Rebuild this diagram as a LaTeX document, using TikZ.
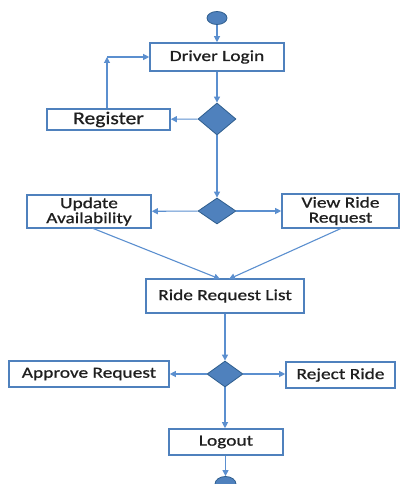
\documentclass[tikz,border=0pt]{standalone}
\usepackage{fontspec}
\setmainfont[FakeStretch=1.25,FakeBold=0.8]{Carlito}
\newfontfamily\regfont[FakeStretch=1.2,FakeBold=0.8]{Carlito}
\usetikzlibrary{shapes.geometric,arrows.meta}
\definecolor{boxline}{HTML}{4F81BD}
\definecolor{conn}{HTML}{5B8FCF}
\definecolor{dfill}{HTML}{4F81BD}
\definecolor{dline}{HTML}{2F5E8E}
\definecolor{txt}{HTML}{1F1F1F}
\tikzset{
  actbox/.style={draw=boxline, line width=1.6pt, fill=white, inner sep=0pt,
    text=txt, font=\fontsize{15.5}{16.5}\selectfont, align=center},
  decision/.style={diamond, draw=dline, line width=0.8pt, fill=dfill, inner sep=0pt},
  terminal/.style={ellipse, draw=dline, line width=0.8pt, fill=dfill, inner sep=0pt},
  flow/.style={draw=conn, line width=1.1pt, -{Triangle[length=6pt,width=6pt]}},
}
\begin{document}
\begin{tikzpicture}[x=1pt,y=-1pt]
\useasboundingbox (0,0) rectangle (401,484);
\node[terminal, minimum width=20pt, minimum height=13pt] (start) at (217,18) {};
\node[actbox, minimum width=134pt, minimum height=28pt] (login) at (217,57) {Driver Login};
\node[decision, minimum width=38pt, minimum height=32pt] (d1) at (217,119) {};
\node[actbox, minimum width=123pt, minimum height=21pt, font=\regfont\fontsize{18}{19}\selectfont] (reg) at (108.5,119.5) {Register};
\node[decision, minimum width=38pt, minimum height=26pt] (d2) at (217,211) {};
\node[actbox, minimum width=124pt, minimum height=33pt] (upd) at (89,211.5) {Update\\[-1.5pt]Availability};
\node[actbox, minimum width=117pt, minimum height=34pt] (view) at (340.5,211) {View Ride\\[-1.5pt]Request};
\node[actbox, minimum width=158pt, minimum height=34pt] (list) at (225,296) {Ride Request List};
\node[decision, minimum width=36pt, minimum height=26pt] (d3) at (225,374) {};
\node[actbox, minimum width=160pt, minimum height=26pt] (appr) at (89,374) {Approve Request};
\node[actbox, minimum width=109pt, minimum height=26pt] (rej) at (340.5,375) {Reject Ride};
\node[actbox, minimum width=114pt, minimum height=26pt] (logout) at (226,442) {Logout};
\node[terminal, minimum width=21pt, minimum height=15pt] (end) at (225.5,484) {};
\coordinate (corner) at (107,57);
\coordinate (updout) at (92,228);
\coordinate (viewout) at (342,228);
\coordinate (listinA) at (220,279);
\coordinate (listinB) at (229,279);

\draw[flow] (start) -- (login);
\draw[flow] (login) -- (d1);
\draw[flow] (d1) -- (reg);
\draw[flow] (reg.north -| corner) -- (corner);
\draw[flow] (corner) -- (login.west);
\draw[flow] (d1) -- (d2);
\draw[flow] (d2) -- (upd);
\draw[flow] (d2) -- (view);
\draw[flow] (updout) -- (listinA);
\draw[flow] (viewout) -- (listinB);
\draw[flow] (list.south -| d3) -- (d3);
\draw[flow] (d3) -- (appr);
\draw[flow] (d3) -- (rej.west |- d3);
\draw[flow] (d3) -- (logout.north -| d3);
\draw[flow] (logout.south -| end) -- (end);
\end{tikzpicture}
\end{document}
